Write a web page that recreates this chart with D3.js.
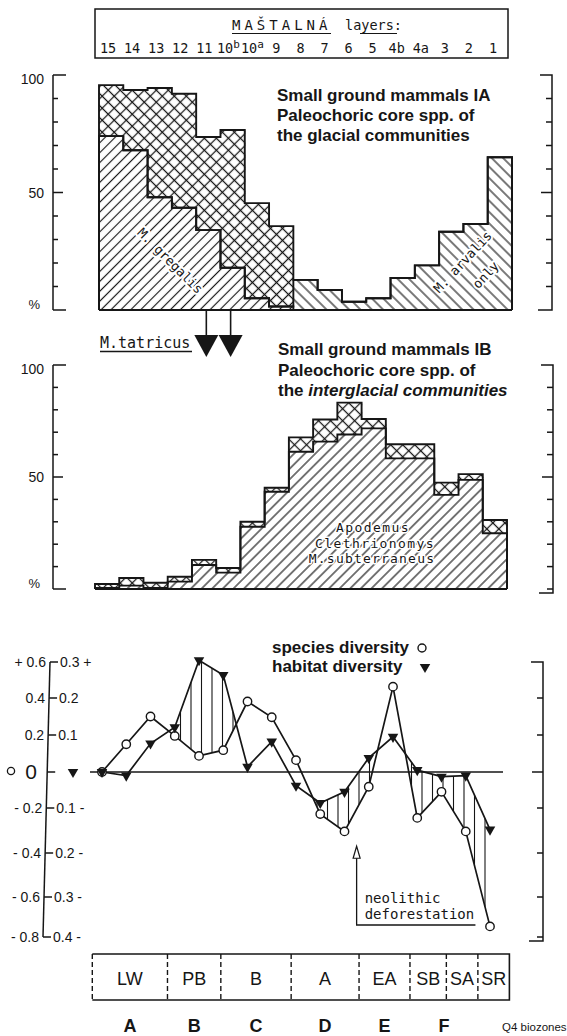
<!DOCTYPE html>
<html><head><meta charset="utf-8">
<script src="https://cdn.jsdelivr.net/npm/d3@7/dist/d3.min.js"></script>
<style>
html,body{margin:0;padding:0;background:#fff;}
svg{display:block;}
</style></head><body>
<svg id="chart" width="567" height="1036"></svg>
<script>
// ---------------- data ----------------
const layers = ["15","14","13","12","11","10b","10a","9","8","7","6","5","4b","4a","3","2","1"];
// IA: glacial core species (% of community)
const iaGregalis      = [74, 68, 48, 43.5, 34, 18, 5, 1.5, 0, 0, 0, 0, 0, 0, 0, 0, 0];
const iaArvalis       = [0, 0, 0, 0, 0, 0, 0, 0, 12.8, 8.5, 3.5, 5, 13.6, 19, 33.3, 36.6, 65];
const iaOtherGlacial  = [21.7, 25.6, 46.5, 48.5, 39.6, 58.6, 40.5, 34.2, 0, 0, 0, 0, 0, 0, 0, 0, 0];
// IB: interglacial core species
const ibCore          = [0.5, 1.5, 0.5, 3.3, 10.7, 7.3, 27.8, 43.4, 61.3, 65.8, 69, 71.7, 58.3, 58.3, 42, 48.7, 24.9];
const ibOther         = [1.7, 3.4, 2.3, 2.2, 2.3, 2.1, 2.2, 1.8, 6.4, 9.9, 14.2, 4.2, 6.3, 6.3, 5.5, 2.6, 5.9];
const tatricusLayers  = ["11", "10b"];
// diversity
const speciesDiversity = [0, 0.15, 0.30, 0.195, 0.087, 0.118, 0.381, 0.296, 0.064, -0.227, -0.304, -0.082, 0.463, -0.244, -0.11, -0.304, -0.747];
const habitatDiversity = [0, -0.01, 0.077, 0.121, 0.305, 0.264, 0.014, 0.082, -0.038, -0.086, -0.055, 0.038, 0.095, 0.005, -0.013, -0.01, -0.148];
const percentTicks  = [0,10,20,30,40,50,60,70,80,90,100];
const speciesTicks  = [-0.8,-0.6,-0.4,-0.2,0,0.2,0.4,0.6];
const habitatTicks  = [-0.4,-0.3,-0.2,-0.1,0,0.1,0.2,0.3];
const chronoZones     = ["LW","PB","B","A","EA","SB","SA","SR"];
const chronoZoneEdges = [-0.4, 2.7, 4.9, 7.8, 10.6, 12.7, 14.2, 15.5, 16.8]; // layer-position units
const biozones     = ["A","B","C","D","E","F"];
const biozoneSpans = [[0,1],[1,2],[2,3],[3,4],[4,5],[5,7]];
const neolithicAt  = {pos: 10.5, from: -0.37, to: -0.74, end: 15.4};

// ---------------- setup ----------------
const INK = "#161616";
const SANS = "'Liberation Sans', Arial, sans-serif";
const MONO = "'DejaVu Sans Mono', monospace";
const svg = d3.select("#chart");
const defs = svg.append("defs");
function pattern(id, angle, size, cross, sw){
  const p = defs.append("pattern").attr("id",id).attr("patternUnits","userSpaceOnUse")
    .attr("width",size).attr("height",size).attr("patternTransform",`rotate(${angle})`);
  p.append("rect").attr("width",size).attr("height",size).attr("fill","#fff");
  p.append("line").attr("x1",size/2).attr("y1",-1).attr("x2",size/2).attr("y2",size+1)
    .attr("stroke",INK).attr("stroke-width",sw);
  if(cross) p.append("line").attr("x1",-1).attr("y1",size/2).attr("x2",size+1).attr("y2",size/2)
    .attr("stroke",INK).attr("stroke-width",sw);
}
pattern("fwd",45,7,false,1.15);
pattern("back",-45,8,false,1.15);
pattern("cross",45,8.5,true,1.25);
pattern("fwd2",45,7.5,false,1.15);

function txt(g, x, y, s, o={}){
  const t = g.append("text").attr("x",x).attr("y",y).text(s)
    .attr("font-family",o.family||SANS).attr("font-size",o.size||14)
    .attr("fill",INK).attr("text-anchor",o.anchor||"start");
  if(o.weight) t.attr("font-weight",o.weight);
  if(o.style) t.attr("font-style",o.style);
  if(o.ls) t.attr("letter-spacing",o.ls);
  if(o.halo) t.attr("stroke","#fff").attr("stroke-width",o.halo).attr("paint-order","stroke").attr("stroke-linejoin","round");
  if(o.rotate!==undefined) t.attr("transform",`rotate(${o.rotate},${x},${y})`);
  return t;
}

// ---------------- header ----------------
const xH = d3.scaleBand().domain(layers).range([96,505]);
const gH = svg.append("g");
gH.append("rect").attr("x",95).attr("y",9).attr("width",413).attr("height",49)
  .attr("fill","none").attr("stroke",INK).attr("stroke-width",1.5);
txt(gH, 232, 30, "MAŠTALNÁ", {family:MONO,size:14,ls:4});
txt(gH, 345, 30, "layers:", {family:MONO,size:13.5});
gH.append("line").attr("x1",232).attr("x2",331).attr("y1",33.5).attr("y2",33.5).attr("stroke",INK).attr("stroke-width",1.2);
gH.append("line").attr("x1",360).attr("x2",397).attr("y1",33.5).attr("y2",33.5).attr("stroke",INK).attr("stroke-width",1.2);
layers.forEach(l=>{
  const cx = xH(l)+xH.bandwidth()/2;
  const m = l.match(/^10([ab])$/);
  const t = gH.append("text").attr("x",cx).attr("y",53).attr("text-anchor","middle")
    .attr("font-family",MONO).attr("font-size",13.5).attr("fill",INK);
  if(m){ t.append("tspan").text("10"); t.append("tspan").text(m[1]).attr("dy",-5).attr("font-size",11); }
  else t.text(l);
});

// ---------------- stacked step panels ----------------
function stackPanel(keys, data, fills, x, y){
  const rows = layers.map((l,i)=>{const r={layer:l}; keys.forEach((k,j)=>r[k]=data[j][i]); return r;});
  const series = d3.stack().keys(keys)(rows);
  const g = svg.append("g");
  series.forEach((s,j)=>{
    g.selectAll(null).data(s.filter(d=>d[1]-d[0]>0)).join("rect")
      .attr("x",d=>x(d.data.layer)).attr("width",x.bandwidth()+0.6)
      .attr("y",d=>y(d[1])).attr("height",d=>y(d[0])-y(d[1]))
      .attr("fill",`url(#${fills[j]})`);
  });
  const [x0,x1] = x.range();
  series.forEach(s=>{
    const pts=[[x0,y(0)]];
    s.forEach(d=>{ pts.push([x(d.data.layer),y(d[1])]); pts.push([x(d.data.layer)+x.bandwidth(),y(d[1])]); });
    pts.push([x1,y(0)]);
    g.append("path").attr("d",d3.line()(pts)).attr("fill","none").attr("stroke",INK)
      .attr("stroke-width",1.9).attr("stroke-linejoin","miter");
  });
  g.append("line").attr("x1",x0).attr("x2",x1).attr("y1",y(0)).attr("y2",y(0)).attr("stroke",INK).attr("stroke-width",2);
  return g;
}
function leftPercentAxis(y, ax){
  const g = svg.append("g").attr("stroke",INK).attr("stroke-width",1.5);
  g.append("line").attr("x1",ax).attr("x2",ax).attr("y1",y(100)).attr("y2",y(0));
  percentTicks.forEach(t=>{
    const len = (t===0||t===100)?13:(t===50?10:5);
    g.append("line").attr("x1",ax).attr("x2",ax+len).attr("y1",y(t)).attr("y2",y(t));
  });
  const gt = svg.append("g");
  txt(gt, 44, y(100)+9, "100", {size:14, anchor:"end"});
  txt(gt, 44, y(50)+5, "50", {size:14, anchor:"end"});
  txt(gt, 40, y(0)-1, "%", {size:13, anchor:"end"});
}
function rightBracket(y, ticks, bx, top, bottom, major){
  const g = svg.append("g").attr("stroke",INK).attr("stroke-width",1.5).attr("fill","none");
  g.append("path").attr("d",`M${bx-12},${top}H${bx}V${bottom}H${bx-14}`);
  ticks.forEach(t=>{
    const yy = y(t);
    if(Math.abs(yy-top)<3 || Math.abs(yy-bottom)<3) return;
    g.append("line").attr("x1",bx).attr("x2",bx-(t===major?11:6)).attr("y1",yy).attr("y2",yy);
  });
}

// ---- Panel IA ----
const xA = d3.scaleBand().domain(layers).range([99,512]);
const yA = d3.scaleLinear().domain([0,100]).range([310,75]);
stackPanel(["gregalis","arvalis","other"], [iaGregalis, iaArvalis, iaOtherGlacial], ["fwd","back","cross"], xA, yA);
leftPercentAxis(yA, 53);
rightBracket(yA, percentTicks, 552, yA(100), yA(0), 50);
const gA = svg.append("g");
txt(gA, 277, 101, "Small ground mammals  IA", {size:17, weight:"bold"});
txt(gA, 277, 121, "Paleochoric core spp. of", {size:17, weight:"bold"});
txt(gA, 277, 141, "the glacial communities", {size:17, weight:"bold"});
txt(gA, 167, 264, "M. gregalis", {family:MONO,size:13,anchor:"middle",rotate:45,halo:4});
txt(gA, 466, 265, "M. arvalis", {family:MONO,size:13,anchor:"middle",rotate:-47,halo:4});
txt(gA, 489, 278, "only", {family:MONO,size:13,anchor:"middle",rotate:-47,halo:4});

// M. tatricus arrows
const gT = svg.append("g");
tatricusLayers.forEach(l=>{
  const cx = xA(l)+xA.bandwidth()/2-2;
  gT.append("line").attr("x1",cx).attr("x2",cx).attr("y1",yA(0)).attr("y2",336).attr("stroke",INK).attr("stroke-width",1.6);
  gT.append("path").attr("d",`M${cx-12},335L${cx+12},335L${cx},357Z`).attr("fill",INK);
});
txt(gT, 100, 348, "M.tatricus", {family:MONO,size:15});
gT.append("line").attr("x1",100).attr("x2",192).attr("y1",351.5).attr("y2",351.5).attr("stroke",INK).attr("stroke-width",1.3);

// ---- Panel IB ----
const xB = d3.scaleBand().domain(layers).range([95,507]);
const yB = d3.scaleLinear().domain([0,100]).range([589,365]);
stackPanel(["core","other"], [ibCore, ibOther], ["fwd2","cross"], xB, yB);
leftPercentAxis(yB, 53);
rightBracket(yB, percentTicks, 553, yB(100), 593, 50);
const gB = svg.append("g");
txt(gB, 278, 355, "Small ground mammals  IB", {size:17, weight:"bold"});
txt(gB, 278, 376, "Paleochoric core spp. of", {size:17, weight:"bold"});
const l3 = txt(gB, 278, 396, "", {size:17, weight:"bold"});
l3.append("tspan").text("the ");
l3.append("tspan").text("interglacial communities").attr("font-style","italic");
txt(gB, 373, 532, "Apodemus", {family:MONO,size:13,anchor:"middle",halo:3,ls:1.4});
txt(gB, 375, 547.5, "Clethrionomys", {family:MONO,size:13,anchor:"middle",halo:3,ls:1.4});
txt(gB, 372, 563, "M.subterraneus", {family:MONO,size:13,anchor:"middle",halo:3,ls:1.2});

// ---- Panel diversity ----
const xD = d3.scaleLinear().domain([0, layers.length-1]).range([102,490]);
const yS = d3.scaleLinear().domain(speciesTicks).range([937,897,853,808,772,735,698,662]);
const yH = d3.scaleLinear().domain(habitatTicks).range(yS.range());
const gD = svg.append("g");
// vertical hatching where habitat diversity lies above species diversity
const sPx = speciesDiversity.map(v=>yS(v)), hPx = habitatDiversity.map(v=>yH(v));
for(let px = xD(0)+5; px < xD(layers.length-1); px += 10.5){
  const u = xD.invert(px), i = Math.floor(u), f = u-i;
  const ys = sPx[i]*(1-f)+sPx[i+1]*f, yh = hPx[i]*(1-f)+hPx[i+1]*f;
  if(yh < ys-3) gD.append("line").attr("x1",px).attr("x2",px).attr("y1",yh).attr("y2",ys)
    .attr("stroke",INK).attr("stroke-width",1.1);
}
gD.append("line").attr("x1",90).attr("x2",503).attr("y1",yS(0)).attr("y2",yS(0)).attr("stroke",INK).attr("stroke-width",1.3);
const lineS = d3.line().x((d,i)=>xD(i)).y(d=>yS(d));
const lineH = d3.line().x((d,i)=>xD(i)).y(d=>yH(d));
gD.append("path").attr("d",lineS(speciesDiversity)).attr("fill","none").attr("stroke",INK).attr("stroke-width",1.7);
gD.append("path").attr("d",lineH(habitatDiversity)).attr("fill","none").attr("stroke",INK).attr("stroke-width",1.7);
gD.selectAll(null).data(speciesDiversity).join("circle")
  .attr("cx",(d,i)=>xD(i)).attr("cy",d=>yS(d)).attr("r",4.2)
  .attr("fill","#fff").attr("stroke",INK).attr("stroke-width",1.4);
const tri = d3.symbol(d3.symbolTriangle).size(48);
gD.selectAll(null).data(habitatDiversity).join("path")
  .attr("d",tri).attr("transform",(d,i)=>`translate(${xD(i)},${yH(d)}) rotate(180)`).attr("fill",INK);

// left double axis
const gAx = svg.append("g");
const axTop = [50, yS(0.6)], axBot = [43, yS(-0.8)];
const axX = yy => axTop[0] + (axBot[0]-axTop[0])*(yy-axTop[1])/(axBot[1]-axTop[1]);
gAx.append("line").attr("x1",axTop[0]).attr("y1",axTop[1]).attr("x2",axBot[0]).attr("y2",axBot[1]).attr("stroke",INK).attr("stroke-width",1.5);
speciesTicks.forEach((v,k)=>{
  const yy = yS(v), ax = axX(yy);
  gAx.append("line").attr("x1",ax).attr("x2",ax+8).attr("y1",yy).attr("y2",yy).attr("stroke",INK).attr("stroke-width",1.5);
  if(v===0){
    gAx.append("circle").attr("cx",11).attr("cy",yy-1).attr("r",3.6).attr("fill","none").attr("stroke",INK).attr("stroke-width",1.3);
    txt(gAx, 37, yy+7, "0", {size:21, anchor:"end"});
    gAx.append("path").attr("d",tri).attr("transform",`translate(73,${yy}) rotate(180)`).attr("fill",INK);
    return;
  }
  const left = v>0 ? (v===0.6 ? "+ 0.6" : String(v)) : "- " + Math.abs(v);
  txt(gAx, ax-4, yy+5, left, {size:14, anchor:"end"});
  const h = habitatTicks[k];
  const right = h>0 ? (h===0.3 ? Math.abs(h)+" +" : String(h)) : Math.abs(h)+" -";
  txt(gAx, ax+10, yy+5, right, {size:14});
});
rightBracket(yS, speciesTicks, 543, yS(0.6), 941, 0);

// legend
txt(gD, 272, 653, "species diversity", {size:17, weight:"bold"});
gD.append("circle").attr("cx",422).attr("cy",648).attr("r",4).attr("fill","#fff").attr("stroke",INK).attr("stroke-width",1.4);
txt(gD, 272, 672, "habitat diversity", {size:17, weight:"bold"});
gD.append("path").attr("d",tri).attr("transform",`translate(425,667) rotate(180)`).attr("fill",INK);

// neolithic deforestation annotation
const nx = xD(neolithicAt.pos);
const nTop = yS(neolithicAt.from), nBot = yS(neolithicAt.to);
gD.append("path").attr("d",`M${nx},${nTop+6}V${nBot}H${xD(neolithicAt.end)}`).attr("fill","none").attr("stroke",INK).attr("stroke-width",1.3);
gD.append("path").attr("d",`M${nx},${nTop}L${nx-3.5},${nTop+12}L${nx+3.5},${nTop+12}Z`).attr("fill","#fff").attr("stroke",INK).attr("stroke-width",1.2);
txt(gD, nx+8, nBot-22, "neolithic", {family:MONO,size:14});
txt(gD, nx+8, nBot-6, "deforestation", {family:MONO,size:14});

// ---- chronozone box ----
const gZ = svg.append("g");
const zTop = 954, zBot = 1000;
const ex = chronoZoneEdges.map(e=>xD(e));
gZ.append("path").attr("d",`M${ex[0]},${zTop}H${ex[ex.length-1]}V${zBot}H${ex[0]}`).attr("fill","none").attr("stroke",INK).attr("stroke-width",1.6);
ex.slice(0,-1).forEach(x=>{
  gZ.append("line").attr("x1",x).attr("x2",x).attr("y1",zTop).attr("y2",zBot)
    .attr("stroke",INK).attr("stroke-width",1.4).attr("stroke-dasharray","5,3");
});
chronoZones.forEach((z,i)=>{
  txt(gZ, (ex[i]+ex[i+1])/2, 985, z, {size:18, anchor:"middle"});
});
biozones.forEach((b,i)=>{
  const [a,c] = biozoneSpans[i];
  txt(gZ, (ex[a]+ex[c])/2, 1032, b, {size:18, weight:"bold", anchor:"middle"});
});
txt(gZ, 502, 1031, "Q4 biozones", {size:11.5});
</script>
</body></html>
